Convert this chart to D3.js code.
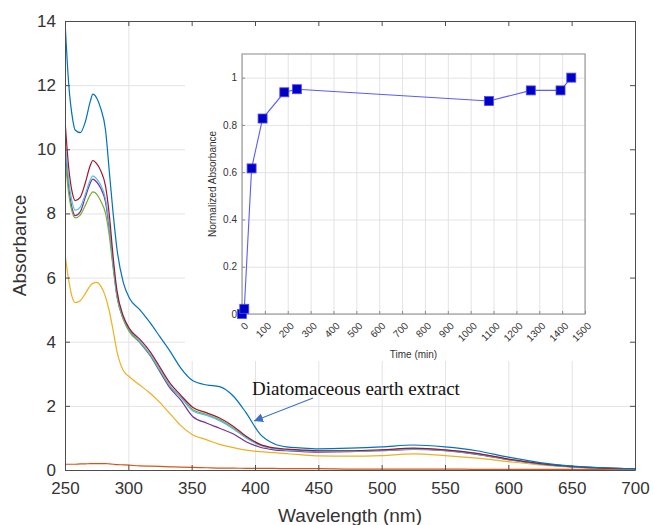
<!DOCTYPE html>
<html>
<head>
<meta charset="utf-8">
<script src="https://cdn.jsdelivr.net/npm/d3@7"></script>
<style>
  html, body { margin: 0; padding: 0; background: #fff; }
  svg { display: block; }
</style>
</head>
<body>
<svg id="chart" width="653" height="525"></svg>
<script>
// Shared wavelength grid (nm) for all absorbance spectra
const wavelengths = [250,253,256,258,262,266,270,272,275,278,282,285,288,291,296,301,309,317,325,333,341,351,362,372,383,393,404,415,425,435,450,475,500,525,550,575,600,625,650,675,700];

// Absorbance spectra
const diatomExtract = [14.0,12.0,10.95,10.6,10.52,10.85,11.5,11.72,11.6,11.3,10.6,9.3,8.0,6.9,5.85,5.35,5.0,4.6,4.15,3.7,3.2,2.78,2.65,2.6,2.3,1.78,1.12,0.82,0.72,0.69,0.66,0.68,0.72,0.78,0.72,0.6,0.4,0.23,0.12,0.07,0.04];
const baseline      = [0.18,0.18,0.18,0.18,0.19,0.19,0.2,0.2,0.2,0.2,0.2,0.19,0.18,0.17,0.16,0.15,0.13,0.12,0.11,0.1,0.09,0.08,0.07,0.06,0.06,0.05,0.05,0.05,0.04,0.04,0.04,0.03,0.03,0.03,0.03,0.02,0.02,0.02,0.02,0.02,0.02];
const sampleYellow  = [6.75,5.9,5.35,5.22,5.28,5.5,5.75,5.82,5.85,5.75,5.4,4.95,4.35,3.7,3.1,2.9,2.65,2.4,2.1,1.75,1.4,1.09,0.94,0.8,0.7,0.62,0.57,0.54,0.51,0.48,0.44,0.43,0.45,0.5,0.45,0.37,0.26,0.16,0.09,0.05,0.03];
const samplePurple  = [10.1,8.8,8.1,7.93,8.05,8.5,8.95,9.07,8.98,8.8,8.35,7.5,6.4,5.45,4.72,4.33,3.98,3.58,3.06,2.55,2.2,1.66,1.46,1.3,1.12,0.88,0.71,0.63,0.6,0.58,0.56,0.57,0.6,0.64,0.6,0.49,0.32,0.19,0.1,0.06,0.04];
const sampleGreen   = [9.75,8.6,8.0,7.86,7.95,8.25,8.58,8.67,8.6,8.4,8.0,7.3,6.3,5.4,4.7,4.3,3.98,3.6,3.1,2.6,2.3,1.88,1.73,1.57,1.3,1.02,0.78,0.67,0.63,0.61,0.59,0.59,0.62,0.66,0.62,0.51,0.33,0.2,0.11,0.06,0.04];
const sampleCyan    = [10.3,9.0,8.3,8.1,8.2,8.6,9.05,9.17,9.08,8.9,8.45,7.6,6.45,5.5,4.75,4.36,4.02,3.62,3.12,2.62,2.28,1.84,1.7,1.54,1.28,1.0,0.77,0.66,0.62,0.6,0.58,0.58,0.61,0.65,0.61,0.5,0.33,0.19,0.1,0.06,0.04];
const sampleRed     = [10.9,9.4,8.6,8.4,8.5,8.95,9.5,9.65,9.55,9.35,8.85,7.95,6.65,5.6,4.8,4.4,4.08,3.7,3.2,2.7,2.35,1.95,1.78,1.62,1.36,1.05,0.8,0.69,0.65,0.63,0.6,0.6,0.63,0.68,0.63,0.52,0.34,0.2,0.11,0.06,0.04];

const seriesNames  = ["baseline","yellow","purple","green","cyan","red","diatom"];
const seriesValues = [baseline, sampleYellow, samplePurple, sampleGreen, sampleCyan, sampleRed, diatomExtract];
const seriesColors = ["#D95319","#EDB120","#7E2F8E","#77AC30","#4DBEEE","#A2142F","#0072BD"];

const wavelengthTicks = [250,300,350,400,450,500,550,600,650,700];
const absorbanceTicks = [0,2,4,6,8,10,12,14];

// Kinetics inset: normalized absorbance versus time
const timeMin      = [0,10,42,90,185,240,1080,1263,1393,1440];
const normAbs      = [0,0.022,0.616,0.827,0.938,0.951,0.901,0.946,0.946,1.0];
const timeTicks    = [0,100,200,300,400,500,600,700,800,900,1000,1100,1200,1300,1400,1500];
const normAbsTicks = [0,0.2,0.4,0.6,0.8,1];

const svg = d3.select("#chart");
const font = "'Liberation Sans', Arial, Helvetica, sans-serif";
const axisColor = "#4d4d4d";
const labelColor = "#333";
const gridColor = "#e3e3e3";

// ---- main spectra axes ----
const M = { left: 65, right: 635, top: 21, bottom: 470 };
const x = d3.scaleLinear().domain([250, 700]).range([M.left, M.right]);
const y = d3.scaleLinear().domain([0, 14]).range([M.bottom, M.top]);

// grid
svg.append("g").attr("transform", `translate(0,${M.bottom})`)
  .call(d3.axisBottom(x).tickValues(wavelengthTicks).tickSize(-(M.bottom - M.top)).tickFormat(""))
  .call(g => g.select(".domain").remove())
  .call(g => g.selectAll("line").attr("stroke", gridColor));
svg.append("g").attr("transform", `translate(${M.left},0)`)
  .call(d3.axisLeft(y).tickValues(absorbanceTicks).tickSize(-(M.right - M.left)).tickFormat(""))
  .call(g => g.select(".domain").remove())
  .call(g => g.selectAll("line").attr("stroke", gridColor));

// panel behind the inset
svg.append("rect").attr("x", 185).attr("y", 0).attr("width", 468).attr("height", 361).attr("fill", "#fff");

// spectra
const clipId = "plotClip";
svg.append("clipPath").attr("id", clipId).append("rect")
  .attr("x", M.left).attr("y", M.top).attr("width", M.right - M.left).attr("height", M.bottom - M.top + 2);
const line = d3.line().x((d, i) => x(wavelengths[i])).y(d => y(d)).curve(d3.curveMonotoneX);
svg.append("g").attr("clip-path", `url(#${clipId})`)
  .selectAll("path").data(seriesValues).join("path")
  .attr("d", d => line(d))
  .attr("fill", "none")
  .attr("stroke", (d, i) => seriesColors[i])
  .attr("stroke-width", 1.2)
  .attr("class", (d, i) => "spectrum " + seriesNames[i]);

// axes with inward ticks on all four sides
function styleAxis(g) {
  g.selectAll(".domain").attr("stroke", axisColor);
  g.selectAll(".tick line").attr("stroke", axisColor);
  g.selectAll("text").attr("fill", labelColor).attr("font-family", font).attr("font-size", 17);
}
svg.append("g").attr("transform", `translate(0,${M.bottom})`)
  .call(d3.axisBottom(x).tickValues(wavelengthTicks).tickSizeInner(-5).tickSizeOuter(0).tickPadding(12))
  .call(styleAxis);
svg.append("g").attr("transform", `translate(${M.left},0)`)
  .call(d3.axisLeft(y).tickValues(absorbanceTicks).tickSizeInner(-5).tickSizeOuter(0).tickPadding(9))
  .call(styleAxis);
svg.append("g").attr("transform", `translate(0,${M.top})`)
  .call(d3.axisTop(x).tickValues(wavelengthTicks).tickSizeInner(-5).tickSizeOuter(0).tickFormat(""))
  .call(styleAxis);
svg.append("g").attr("transform", `translate(${M.right},0)`)
  .call(d3.axisRight(y).tickValues(absorbanceTicks).tickSizeInner(-5).tickSizeOuter(0).tickFormat(""))
  .call(styleAxis);

svg.append("text").attr("x", (M.left + M.right) / 2).attr("y", 522)
  .attr("text-anchor", "middle").attr("font-family", font).attr("font-size", 19).attr("fill", labelColor)
  .text("Wavelength (nm)");
svg.append("text").attr("transform", `translate(26,${(M.top + M.bottom) / 2}) rotate(-90)`)
  .attr("text-anchor", "middle").attr("font-family", font).attr("font-size", 19).attr("fill", labelColor)
  .text("Absorbance");

// annotation for the diatomaceous earth spectrum
svg.append("defs").append("marker")
  .attr("id", "arrowHead").attr("viewBox", "0 0 10 10").attr("refX", 10).attr("refY", 5)
  .attr("markerWidth", 9).attr("markerHeight", 9).attr("markerUnits", "userSpaceOnUse").attr("orient", "auto")
  .append("path").attr("d", "M0,0 L10,5 L0,10 Z").attr("fill", "#3A6FCB");
svg.append("line").attr("x1", 313).attr("y1", 398).attr("x2", 254).attr("y2", 421)
  .attr("stroke", "#3A6FCB").attr("stroke-width", 1.1).attr("marker-end", "url(#arrowHead)");
svg.append("text").attr("x", 252).attr("y", 395)
  .attr("font-family", "'Liberation Serif', 'Times New Roman', serif").attr("font-size", 19).attr("fill", "#111")
  .text("Diatomaceous earth extract");

// ---- inset: normalized absorbance vs time ----
const I = { left: 242, right: 585, top: 54, bottom: 314 };
const xi = d3.scaleLinear().domain([0, 1500]).range([I.left, I.right]);
const yi = d3.scaleLinear().domain([0, 1.1]).range([I.bottom, I.top]);
const insetFont = 10;

svg.append("g").attr("transform", `translate(0,${I.bottom})`)
  .call(d3.axisBottom(xi).tickValues(timeTicks).tickSize(-(I.bottom - I.top)).tickFormat(""))
  .call(g => g.select(".domain").remove())
  .call(g => g.selectAll("line").attr("stroke", gridColor));
svg.append("g").attr("transform", `translate(${I.left},0)`)
  .call(d3.axisLeft(yi).tickValues(normAbsTicks).tickSize(-(I.right - I.left)).tickFormat(""))
  .call(g => g.select(".domain").remove())
  .call(g => g.selectAll("line").attr("stroke", gridColor));

svg.append("rect").attr("x", I.left).attr("y", I.top)
  .attr("width", I.right - I.left).attr("height", I.bottom - I.top)
  .attr("fill", "none").attr("stroke", "#8a8a8a").attr("stroke-width", 1);

function styleInset(g) {
  g.selectAll(".domain").remove();
  g.selectAll(".tick line").attr("stroke", "#8a8a8a");
  g.selectAll("text").attr("fill", labelColor).attr("font-family", font).attr("font-size", insetFont);
}
svg.append("g").attr("transform", `translate(0,${I.bottom})`)
  .call(d3.axisBottom(xi).tickValues(timeTicks).tickSizeInner(-3).tickSizeOuter(0).tickFormat(d3.format("d")))
  .call(styleInset)
  .call(g => g.selectAll("text")
    .attr("x", 4).attr("y", 10).attr("dy", "0.35em")
    .attr("text-anchor", "end")
    .attr("transform", "rotate(-45, 4, 10)"));
svg.append("g").attr("transform", `translate(${I.left},0)`)
  .call(d3.axisLeft(yi).tickValues(normAbsTicks).tickSizeInner(-3).tickSizeOuter(0).tickPadding(5)
    .tickFormat(d3.format("~g")))
  .call(styleInset);

svg.append("text").attr("x", (I.left + I.right) / 2).attr("y", 358)
  .attr("text-anchor", "middle").attr("font-family", font).attr("font-size", insetFont).attr("fill", labelColor)
  .text("Time (min)");
svg.append("text").attr("transform", `translate(216,${(I.top + I.bottom) / 2}) rotate(-90)`)
  .attr("text-anchor", "middle").attr("font-family", font).attr("font-size", insetFont).attr("fill", labelColor)
  .text("Normalized Absorbance");

const kinetics = timeMin.map((t, i) => ({ t, v: normAbs[i] }));
svg.append("path").datum(kinetics)
  .attr("d", d3.line().x(d => xi(d.t)).y(d => yi(d.v)))
  .attr("fill", "none").attr("stroke", "#5a5aff").attr("stroke-width", 1.1);
const ms = 9;
svg.append("g").selectAll("rect").data(kinetics).join("rect")
  .attr("x", d => xi(d.t) - ms / 2).attr("y", d => yi(d.v) - ms / 2)
  .attr("width", ms).attr("height", ms)
  .attr("fill", "#0000C4").attr("stroke", "#4b4bff").attr("stroke-width", 0.8);
</script>
</body>
</html>
